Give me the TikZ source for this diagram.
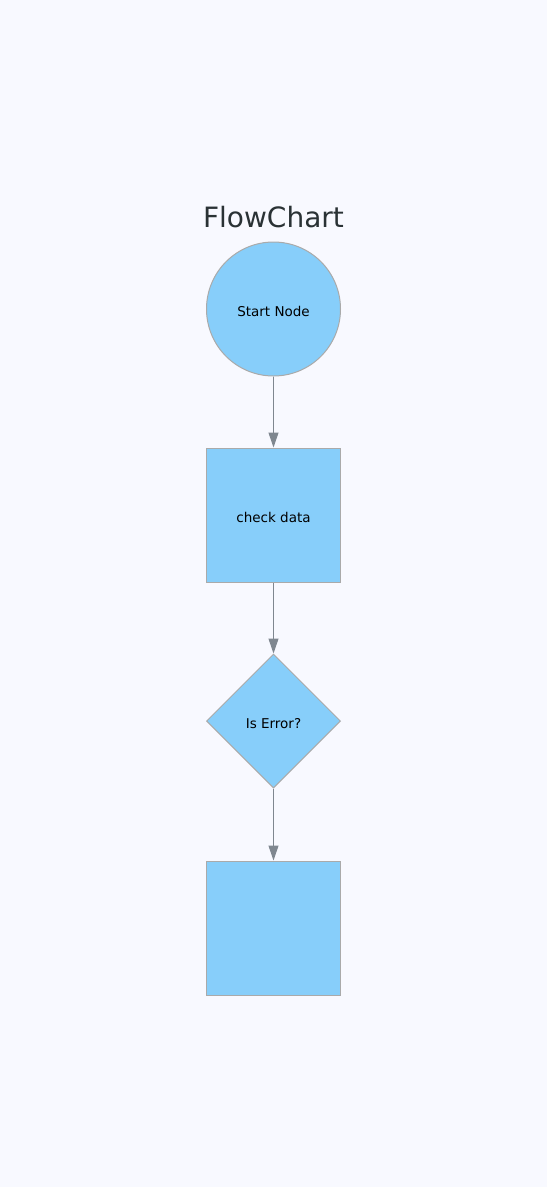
\documentclass[tikz,border=0pt]{standalone}
\usepackage{fontspec}
\setmainfont{DejaVu Sans}
\usetikzlibrary{shapes.geometric,arrows.meta}
\definecolor{bg}{HTML}{F8F9FF}
\definecolor{nodefill}{HTML}{87CEFA}
\definecolor{nodeline}{HTML}{AAAAAA}
\definecolor{edgecol}{HTML}{7F8790}
\definecolor{titlecol}{HTML}{2A3235}
\tikzset{
  base/.style={draw=nodeline, fill=nodefill, line width=1pt, inner sep=0pt,
    font=\fontsize{13.5}{16}\selectfont, text height=16pt, text depth=2pt},
  startnode/.style={base, circle, minimum size=134pt},
  procnode/.style={base, rectangle, minimum width=134pt, minimum height=134pt},
  decnode/.style={base, diamond, aspect=1, minimum width=134pt, minimum height=134pt},
  flow/.style={draw=edgecol, line width=1pt, -{Triangle[width=10pt,length=15pt]}}
}
\begin{document}
\begin{tikzpicture}[x=1pt,y=-1pt]
\fill[bg] (0,0) rectangle (547,1187);
\useasboundingbox (0,0) rectangle (547,1187);
\node[text=titlecol, font=\fontsize{28}{32}\selectfont] (title) at (273.5,217) {FlowChart};
\node[startnode] (start) at (273.5,309) {Start Node};
\node[procnode] (check) at (273.5,515) {check data};
\node[decnode] (err) at (273.5,721) {Is Error?};
\node[procnode] (last) at (273.5,928) {};
\draw[flow] (start) -- (check);
\draw[flow] (check) -- (err);
\draw[flow] (err) -- (last);
\end{tikzpicture}
\end{document}
